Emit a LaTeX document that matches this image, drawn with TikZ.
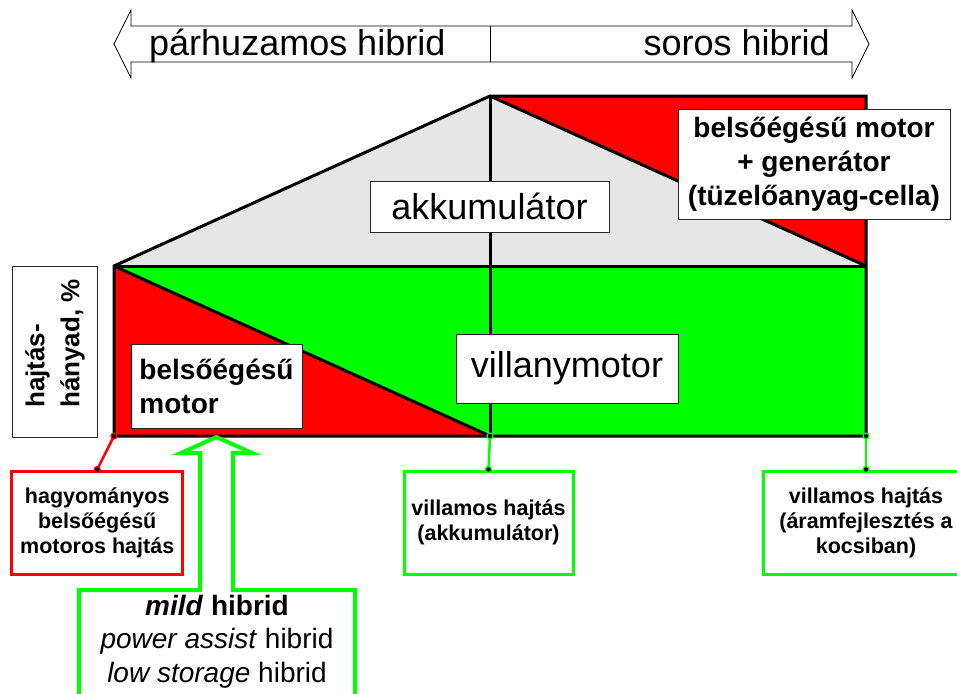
\documentclass[tikz,border=0pt]{standalone}
\usepackage{fontspec}
\setmainfont{Liberation Sans}
\definecolor{cred}{RGB}{255,0,0}
\definecolor{cgreen}{RGB}{0,255,0}
\definecolor{cgrey}{RGB}{230,230,230}
\begin{document}
\begin{tikzpicture}[x=1pt,y=-1pt,
  outl/.style={line width=3pt, line join=miter},
  lbox/.style={draw=black!85, line width=1pt, fill=white, inner sep=0pt},
  bigtxt/.style={font=\fontsize{36}{40}\selectfont},
  boldtxt/.style={font=\fontsize{28}{34}\selectfont\bfseries},
  smalltxt/.style={font=\fontsize{21.5}{25}\selectfont\bfseries, align=center},
  redbox/.style={draw=cred, line width=3pt, fill=white, inner sep=0pt, minimum height=103pt},
  greenbox/.style={draw=cgreen, line width=3pt, fill=white, inner sep=0pt, minimum height=103pt},
  dotr/.style={circle, draw=cred, fill=black, line width=1.2pt, inner sep=0pt, minimum size=6pt},
  dotg/.style={circle, draw=cgreen, fill=black, line width=1.2pt, inner sep=0pt, minimum size=6pt},
  conr/.style={draw=cred, line width=2.5pt},
  cong/.style={draw=cgreen, line width=2.5pt},
]
\useasboundingbox (0,0) rectangle (957,693);

% top double arrow
\draw[line width=0.8pt, fill=white] (114,44) -- (131,10) -- (131,26) -- (852,26) -- (852,10) -- (869,44)
  -- (852,78) -- (852,62) -- (131,62) -- (131,78) -- cycle;
\draw[line width=0.8pt] (490,26) -- (490,62);
\node[bigtxt, anchor=base west, inner sep=0pt] (par) at (149,56) {párhuzamos hibrid};
\node[bigtxt, anchor=base east, inner sep=0pt] (sor) at (830,56) {soros hibrid};

% main diagram corners
\coordinate (A) at (490,96);
\coordinate (TR) at (866,96);
\coordinate (ML) at (114,266);
\coordinate (MR) at (866,266);
\coordinate (BL) at (114,436);
\coordinate (BC) at (490,436);
\coordinate (BR) at (866,436);

\fill[cgrey] (ML) -- (A) -- (MR) -- cycle;
\fill[cred] (A) -- (TR) -- (MR) -- cycle;
\fill[cgreen] (ML) -- (MR) -- (BR) -- (BL) -- cycle;
\fill[cred] (ML) -- (BC) -- (BL) -- cycle;

\draw[outl] (ML) -- (A) -- (TR) -- (BR) -- (BL) -- cycle;
\draw[outl] (ML) -- (MR);
\draw[outl] (ML) -- (BC);
\draw[outl] (A) -- (MR);
\draw[outl] (A) -- (BC);

% labels inside
\node[lbox, bigtxt, minimum width=239pt, minimum height=51pt] (akk) at (489.5,206.5) {akkumulátor};
\node[lbox, bigtxt, minimum width=222pt, minimum height=69pt] (vm) at (567,368.5) {villanymotor};
\node[lbox, boldtxt, align=center, minimum width=272pt, minimum height=110pt] (gen) at (814,164)
  {belsőégésű motor\\+ generátor\\(tüzelőanyag-cella)};
\node[lbox, boldtxt, align=left, minimum width=171pt, minimum height=84pt] (ice) at (216.5,386)
  {belsőégésű\\motor};

% axis label
\node[lbox, rotate=90, minimum width=171pt, minimum height=85pt] (frac) at (54.5,351.5) {};
\node[rotate=90, font=\fontsize{26}{35}\selectfont\bfseries, align=left, inner sep=0pt] (fractxt)
  at (55,343.5) {hajtás-\\hányad, \%};

% bottom boxes
\node[redbox, smalltxt, minimum width=171pt] (trad) at (97.2,522.5) {hagyományos\\belsőégésű\\motoros hajtás};
\node[greenbox, smalltxt, minimum width=169pt] (vakk) at (488.5,522.5) {villamos hajtás\\(akkumulátor)};
\node[greenbox, smalltxt, minimum width=206pt] (vgen) at (866,522.5) {villamos hajtás\\(áramfejlesztés a\\kocsiban)};

% connectors
\draw[conr] (BL) -- (trad.north);
\draw[cong] (BC) -- (vakk.north);
\draw[cong] (BR) -- (vgen.north);
\node[dotr] (d1) at (BL) {};
\node[dotr] (d2) at (trad.north) {};
\node[dotg] (d3) at (BC) {};
\node[dotg] (d4) at (vakk.north) {};
\node[dotg] (d5) at (BR) {};
\node[dotg] (d6) at (vgen.north) {};

% mild hybrid arrow box
\draw[cgreen, line width=4pt, line join=miter, fill=white]
  (200,590) -- (79,590) -- (79,705) -- (355,705) -- (355,590) -- (233,590) -- (233,453)
  -- (252,453) -- (216.5,437) -- (181,453) -- (200,453) -- cycle;
\node[font=\fontsize{28}{33.5}\selectfont, align=center, inner sep=0pt] (mild) at (217,641.7)
  {{\bfseries\itshape mild} \textbf{hibrid}\\\textit{power assist} hibrid\\\textit{low storage} hibrid};
\end{tikzpicture}
\end{document}
